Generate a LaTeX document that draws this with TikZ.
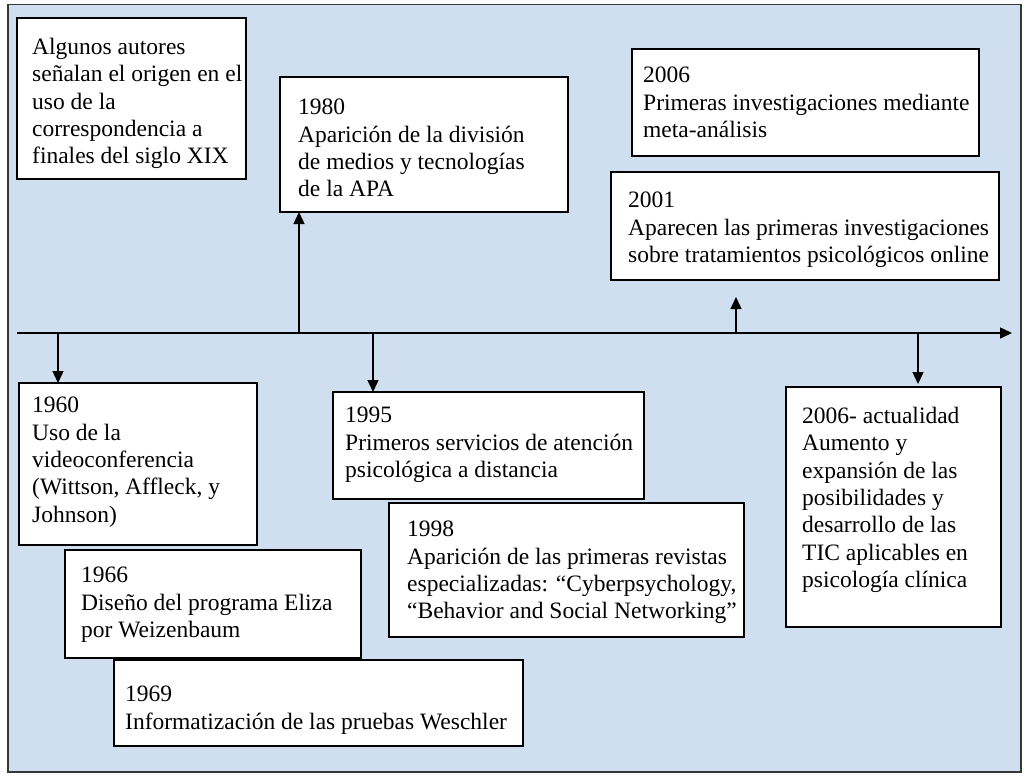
\documentclass[tikz,border=0pt]{standalone}
\usepackage{fontspec}
\setmainfont{Liberation Serif}
\usetikzlibrary{arrows.meta}
\definecolor{bgblue}{RGB}{207,223,240}
\definecolor{framegray}{RGB}{55,55,55}
\newcommand\evtfont{\fontsize{23.5}{27.3}\selectfont}
\begin{document}
\begin{tikzpicture}[x=1pt,y=-1pt,
  evbox/.style={draw=black, fill=white, line width=1.3pt, anchor=north west, inner sep=0pt, outer sep=0pt},
  evtext/.style={anchor=north west, align=left, inner sep=0pt, font=\evtfont, yshift=16pt},
  arr/.style={line width=1.4pt, -{Triangle[length=12pt,width=11pt]}}]
\useasboundingbox (0,0) rectangle (1027,776);
\node[draw=framegray, fill=bgblue, line width=1.5pt, anchor=north west, inner sep=0pt,
  minimum width=1013pt, minimum height=767pt] (frame) at (7,4) {};
% boxes
\node[evbox, minimum width=229pt, minimum height=161pt] (bA) at (17,18) {};
\node[evbox, minimum width=288pt, minimum height=135pt] (b1980) at (280,77) {};
\node[evbox, minimum width=347pt, minimum height=107pt] (b2006) at (632,49) {};
\node[evbox, minimum width=388pt, minimum height=108pt] (b2001) at (611,172) {};
\node[evbox, minimum width=238pt, minimum height=162pt] (b1960) at (19,383) {};
\node[evbox, minimum width=311pt, minimum height=107pt] (b1995) at (333,392) {};
\node[evbox, minimum width=355pt, minimum height=134pt] (b1998) at (389,503) {};
\node[evbox, minimum width=296pt, minimum height=108pt] (b1966) at (65,550) {};
\node[evbox, minimum width=409pt, minimum height=86pt] (b1969) at (114,660) {};
\node[evbox, minimum width=215pt, minimum height=240pt] (bnow) at (786,387) {};
% texts (positions are first-line baselines)
\node[evtext] (xA) at (32,54) {Algunos autores\\señalan el origen en el\\uso de la\\correspondencia a\\finales del siglo XIX};
\node[evtext] (x1980) at (298,115) {1980\\Aparición de la división\\de medios y tecnologías\\de la APA};
\node[evtext] (x2006) at (643,83) {2006\\Primeras investigaciones mediante\\meta-análisis};
\node[evtext] (x2001) at (628,208) {2001\\Aparecen las primeras investigaciones\\sobre tratamientos psicológicos online};
\node[evtext] (x1960) at (32,413) {1960\\Uso de la\\videoconferencia\\(Wittson, Affleck, y\\Johnson)};
\node[evtext] (x1995) at (345,423) {1995\\Primeros servicios de atención\\psicológica a distancia};
\node[evtext] (x1998) at (407,537) {1998\\Aparición de las primeras revistas\\especializadas: “Cyberpsychology,\\“Behavior and Social Networking”};
\node[evtext] (x1966) at (81,583) {1966\\Diseño del programa Eliza\\por Weizenbaum};
\node[evtext] (x1969) at (125,702) {1969\\Informatización de las pruebas Weschler};
\node[evtext] (xnow) at (802,423) {2006- actualidad\\Aumento y\\expansión de las\\posibilidades y\\desarrollo de las\\TIC aplicables en\\psicología clínica};
% axis
\coordinate (axL) at (17,333);
\coordinate (axR) at (1012,333);
\draw[arr] (axL) -- (axR);
\coordinate (t1960) at (58,333);
\coordinate (t1980) at (299,333);
\coordinate (t1995) at (373,333);
\coordinate (t2001) at (736,333);
\coordinate (tnow) at (918,333);
\draw[arr] (t1960) -- (t1960 |- b1960.north);
\draw[arr] (t1980) -- (t1980 |- b1980.south);
\draw[arr] (t1995) -- (t1995 |- b1995.north);
\draw[arr, shorten >=17pt] (t2001) -- (t2001 |- b2001.south);
\draw[arr, shorten >=3pt] (tnow) -- (tnow |- bnow.north);
\end{tikzpicture}
\end{document}
